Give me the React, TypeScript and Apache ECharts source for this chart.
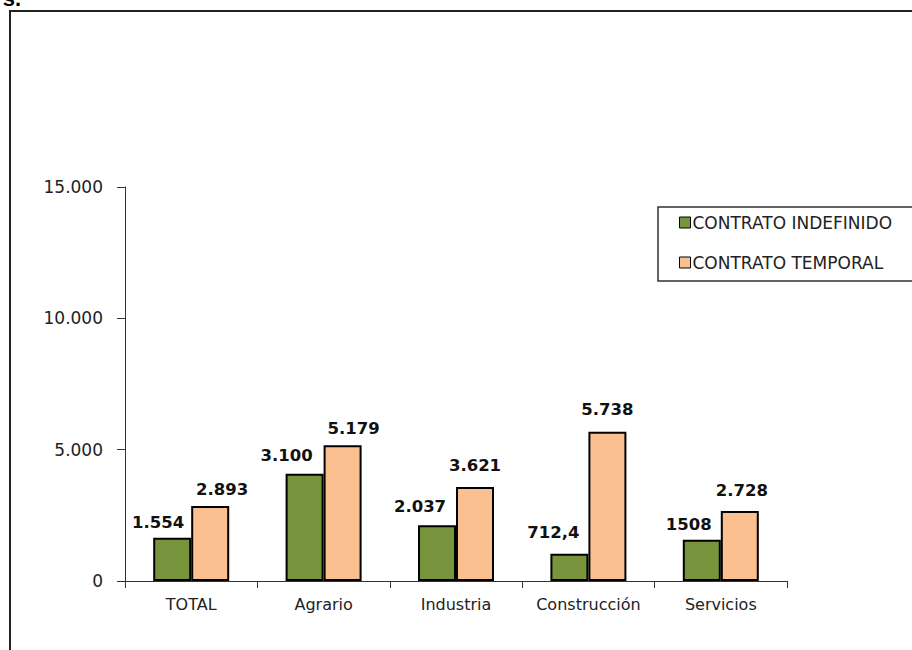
import React, { useEffect, useRef } from "react";
import * as echarts from "echarts";

const categories = ["TOTAL", "Agrario", "Industria", "Construcción", "Servicios"];
const seriesNames = ["CONTRATO INDEFINIDO", "CONTRATO TEMPORAL"];
const indefinido = [1648, 4085, 2120, 1040, 1572];
const temporal = [2855, 5166, 3579, 5684, 2665];
const indefinidoLabels = ["1.554", "3.100", "2.037", "712,4", "1508"];
const temporalLabels = ["2.893", "5.179", "3.621", "5.738", "2.728"];
const yMax = 15000;
const yInterval = 5000;

// label nudges (styling only)
const indefinidoLabelShift = [[-14, 0], [-18, -3], [-17, -3], [-16, -6], [-13, 0]];
const temporalLabelShift = [[12, -1], [11, -1], [0, -6], [0, -7], [2, -5]];

const FONT = "'DejaVu Sans', Verdana, sans-serif";

function fmtThousands(v: number): string {
  const s = Math.round(v).toString();
  return s.replace(/\B(?=(\d{3})+(?!\d))/g, ".");
}

export default function App() {
  const ref = useRef<HTMLDivElement>(null);
  useEffect(() => {
    if (!ref.current) return;
    const chart = echarts.init(ref.current, null, { renderer: "svg" });
    const mkData = (vals: number[], labels: string[], shifts: number[][]) =>
      vals.map((v, i) => ({
        value: v,
        label: { formatter: labels[i], offset: shifts[i] },
      }));
    const labelBase = {
      show: true,
      position: "top",
      distance: 7,
      fontFamily: FONT,
      fontWeight: "bold",
      fontSize: 16.5,
      color: "#111",
    };
    chart.setOption({
      animation: false,
      backgroundColor: "#fff",
      grid: { left: 125, right: 125, top: 187, bottom: 69, containLabel: false },
      legend: {
        orient: "vertical",
        left: 679,
        top: 214,
        padding: 0,
        itemGap: 23,
        itemWidth: 11,
        itemHeight: 11,
        icon: "rect",
        itemStyle: { borderColor: "#000", borderWidth: 1 },
        textStyle: { fontFamily: FONT, fontSize: 17, color: "#222", padding: [0, 0, 0, -3] },
        data: seriesNames,
      },
      xAxis: {
        type: "category",
        data: categories,
        axisLine: { show: true, lineStyle: { color: "#333", width: 1 } },
        axisTick: { show: true, length: 7, alignWithLabel: false, lineStyle: { color: "#333" } },
        axisLabel: { interval: 0, fontFamily: FONT, fontSize: 16, color: "#222", margin: 15 },
        splitLine: { show: false },
      },
      yAxis: {
        type: "value",
        min: 0,
        max: yMax,
        interval: yInterval,
        axisLine: { show: true, lineStyle: { color: "#333", width: 1 } },
        axisTick: { show: true, length: 8, lineStyle: { color: "#333" } },
        axisLabel: {
          fontFamily: FONT,
          fontSize: 17,
          color: "#222",
          margin: 22,
          formatter: (v: number) => fmtThousands(v),
        },
        splitLine: { show: false },
      },
      series: [
        {
          name: seriesNames[0],
          type: "bar",
          barWidth: 38,
          barGap: "0%",
          itemStyle: { color: "#77933C", borderColor: "#000", borderWidth: 2 },
          label: labelBase,
          data: mkData(indefinido, indefinidoLabels, indefinidoLabelShift),
        },
        {
          name: seriesNames[1],
          type: "bar",
          barWidth: 38,
          barGap: "0%",
          itemStyle: { color: "#FAC090", borderColor: "#000", borderWidth: 2 },
          label: labelBase,
          data: mkData(temporal, temporalLabels, temporalLabelShift),
        },
      ],
      graphic: [
        {
          type: "rect",
          silent: true,
          shape: { x: 10, y: 11, width: 1000, height: 1000 },
          style: { fill: "none", stroke: "#222", lineWidth: 2 },
          z: 100,
        },
        {
          type: "rect",
          silent: true,
          shape: { x: 658, y: 207, width: 300, height: 74 },
          style: { fill: "none", stroke: "#333", lineWidth: 1.5 },
          z: 100,
        },
        {
          type: "text",
          silent: true,
          x: 21,
          y: 9,
          style: {
            text: "s.",
            font: "bold 22px Arial, 'Liberation Sans', sans-serif",
            fill: "#000",
            align: "right",
            verticalAlign: "bottom",
          },
          z: 100,
        },
      ],
    });
    return () => chart.dispose();
  }, []);
  return (
    <div
      ref={ref}
      style={{ position: "absolute", left: 0, top: 0, width: 912, height: 650 }}
    />
  );
}
